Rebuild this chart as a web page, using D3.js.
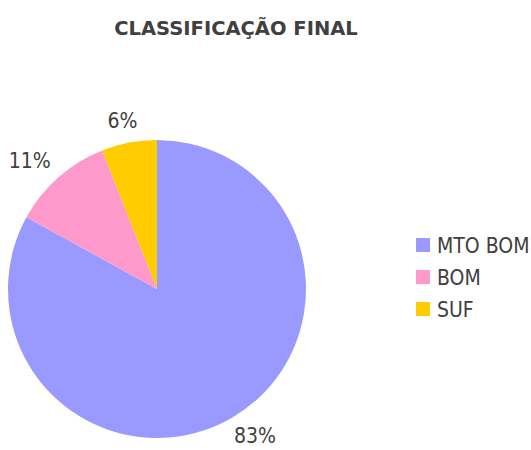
<!DOCTYPE html>
<html>
<head>
<meta charset="utf-8">
<script src="https://cdn.jsdelivr.net/npm/d3@7"></script>
<style>
  body { margin: 0; background: #fff; }
  text { font-family: "DejaVu Sans Condensed", "DejaVu Sans", sans-serif; fill: #404040; }
</style>
</head>
<body>
<svg id="chart" width="531" height="450"></svg>
<script>
var categories = ['MTO BOM', 'BOM', 'SUF']
var values = [83, 11, 6]
var labels = ['83%', '11%', '6%']
var colors = ['#9999FF', '#FF99CC', '#FFCC00']

var width = 531
var height = 450
var cx = 157
var cy = 289
var radius = 149

var svg = d3.select('#chart')

// title
svg.append('text')
  .attr('x', 236)
  .attr('y', 35)
  .attr('text-anchor', 'middle')
  .style('font-family', '"DejaVu Sans", sans-serif')
  .style('font-weight', 'bold')
  .style('font-size', '19.5px')
  .text('CLASSIFICAÇÃO FINAL')

var color = d3.scaleOrdinal().domain(categories).range(colors)

var pie = d3.pie().sort(null).value(function (d) { return d.value })
var data = pie(categories.map(function (c, i) { return { name: c, value: values[i], label: labels[i] } }))

var arc = d3.arc().innerRadius(0).outerRadius(radius)

var g = svg.append('g').attr('transform', 'translate(' + cx + ',' + cy + ')')

g.selectAll('path')
  .data(data)
  .enter().append('path')
  .attr('d', arc)
  .attr('fill', function (d) { return color(d.data.name) })

// labels outside the slices
var labelR = radius + 14
g.selectAll('text.lbl')
  .data(data)
  .enter().append('text')
  .attr('class', 'lbl')
  .style('font-size', '21px')
  .attr('text-anchor', 'middle')
  .text(function (d) { return d.data.label })
  .each(function (d) {
    var a = (d.startAngle + d.endAngle) / 2
    var w = this.getComputedTextLength()
    var h = 16
    var px = labelR * Math.sin(a) + (w * 0.7) * Math.sin(a)
    var py = -labelR * Math.cos(a) - (h / 2) * Math.cos(a)
    d3.select(this).attr('x', px).attr('y', py + 7)
  })

// legend
var legend = svg.append('g').attr('transform', 'translate(416,238)')
var rows = legend.selectAll('g')
  .data(categories)
  .enter().append('g')
  .attr('transform', function (d, i) { return 'translate(0,' + (i * 32) + ')' })

rows.append('rect')
  .attr('width', 14)
  .attr('height', 14)
  .attr('fill', function (d) { return color(d) })

rows.append('text')
  .attr('x', 21)
  .attr('y', 15)
  .style('font-size', '21px')
  .text(function (d) { return d })
</script>
</body>
</html>
